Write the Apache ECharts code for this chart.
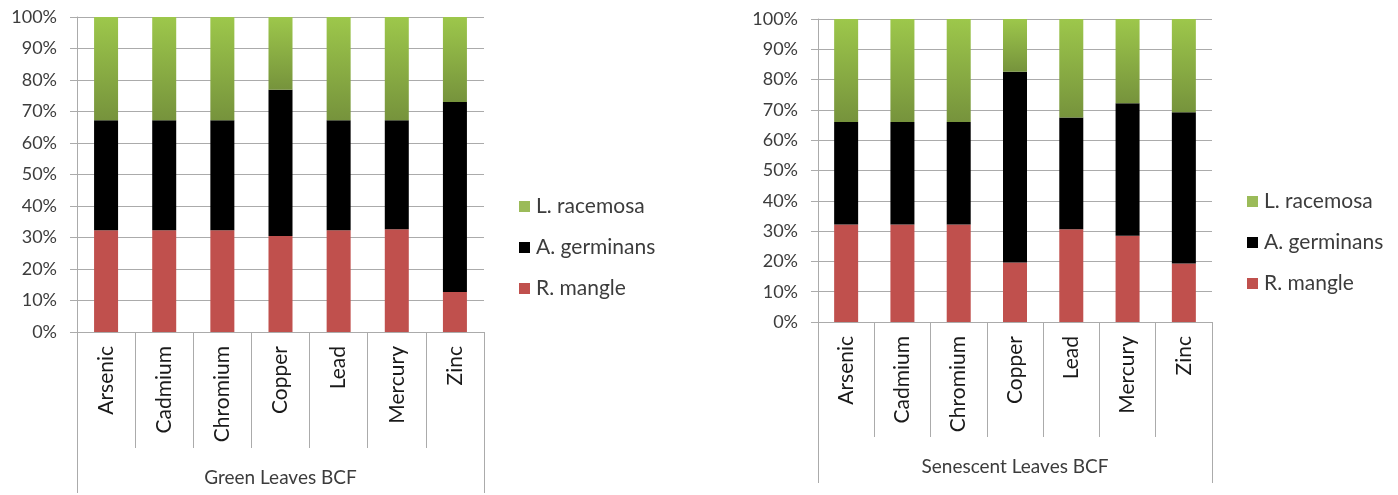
<!DOCTYPE html>
<html>
<head>
<meta charset="utf-8">
<script src="https://cdn.jsdelivr.net/npm/echarts@6/dist/echarts.min.js"></script>
<style>html,body{margin:0;padding:0;background:#fff;}#c{width:1398px;height:495px;}</style>
</head>
<body>
<div id="c"></div>
<script>
var categories = ['Arsenic', 'Cadmium', 'Chromium', 'Copper', 'Lead', 'Mercury', 'Zinc'];
var groupLeft = 'Green Leaves BCF';
var groupRight = 'Senescent Leaves BCF';
var seriesNames = ['R. mangle', 'A. germinans', 'L. racemosa'];

// Green leaves (fractions of 100%)
var greenRMangle    = [0.323, 0.323, 0.323, 0.305, 0.323, 0.326, 0.127];
var greenAGerminans = [0.349, 0.349, 0.349, 0.464, 0.349, 0.346, 0.603];
var greenLRacemosa  = [0.328, 0.328, 0.328, 0.231, 0.328, 0.328, 0.270];

// Senescent leaves
var senRMangle    = [0.322, 0.322, 0.322, 0.196, 0.306, 0.285, 0.193];
var senAGerminans = [0.338, 0.338, 0.338, 0.630, 0.369, 0.437, 0.499];
var senLRacemosa  = [0.340, 0.340, 0.340, 0.174, 0.325, 0.278, 0.308];

var yTicks = [0, 0.1, 0.2, 0.3, 0.4, 0.5, 0.6, 0.7, 0.8, 0.9, 1.0];

var FONT = 'Lato';
var TXT = '#3c3c3c';
var LINE = '#ababab';
var RED = '#C0504D';
var BLACK = '#000000';
var greenGrad = {
  type: 'linear', x: 0, y: 0, x2: 0, y2: 1,
  colorStops: [{offset: 0, color: '#9DC74B'}, {offset: 1, color: '#76933C'}]
};

function yAxis(gi) {
  return {
    type: 'value', gridIndex: gi, min: yTicks[0], max: yTicks[yTicks.length - 1], interval: 0.1,
    axisLine: {show: true, lineStyle: {color: LINE}},
    axisTick: {show: true, length: 7, lineStyle: {color: LINE}},
    splitLine: {show: true, lineStyle: {color: LINE}},
    axisLabel: {
      margin: 20, fontFamily: FONT, fontSize: 18, color: TXT,
      formatter: function (v) { return Math.round(v * 100) + '%'; }
    }
  };
}
function innerX(gi, tickLen) {
  return {
    type: 'category', gridIndex: gi, data: categories, position: 'bottom',
    axisLine: {show: true, lineStyle: {color: LINE}},
    axisTick: {show: true, length: tickLen, interval: 0, lineStyle: {color: LINE}},
    splitLine: {show: false},
    axisLabel: {interval: 0, rotate: 90, margin: 14, fontFamily: FONT, fontSize: 21, color: '#1a1a1a'}
  };
}
function outerX(gi, name, tickLen, margin) {
  return {
    type: 'category', gridIndex: gi, data: [name], position: 'bottom', offset: 0,
    axisLine: {show: false},
    axisTick: {show: true, length: tickLen, interval: 0, lineStyle: {color: LINE}},
    axisLabel: {interval: 0, margin: margin, fontFamily: FONT, fontSize: 19, color: TXT}
  };
}
function bar(name, data, xi, yi, stack, color) {
  return {
    name: name, type: 'bar', stack: stack, xAxisIndex: xi, yAxisIndex: yi,
    data: data, barWidth: 24, itemStyle: {color: color}
  };
}
function legend(left, top) {
  return {
    left: left, top: top, orient: 'vertical', padding: 0, itemGap: 20, itemWidth: 11, itemHeight: 11,
    selectedMode: false, icon: 'rect',
    textStyle: {fontFamily: FONT, fontSize: 21, color: TXT, lineHeight: 21, padding: [0, 0, 0, 1]},
    data: [
      {name: seriesNames[2], itemStyle: {color: '#9BBB59'}},
      {name: seriesNames[1], itemStyle: {color: BLACK}},
      {name: seriesNames[0], itemStyle: {color: RED}}
    ]
  };
}

var chart = echarts.init(document.getElementById('c'));
chart.setOption({
  animation: false,
  backgroundColor: '#fff',
  grid: [
    {left: 77, top: 17, width: 407, height: 315},
    {left: 818, top: 19, width: 394, height: 303}
  ],
  legend: [legend(519, 196), legend(1247, 191)],
  xAxis: [
    innerX(0, 116), outerX(0, groupLeft, 161, 136),
    innerX(1, 115), outerX(1, groupRight, 161, 135)
  ],
  yAxis: [yAxis(0), yAxis(1)],
  series: [
    bar(seriesNames[0], greenRMangle, 0, 0, 'g', RED),
    bar(seriesNames[1], greenAGerminans, 0, 0, 'g', BLACK),
    bar(seriesNames[2], greenLRacemosa, 0, 0, 'g', greenGrad),
    bar(seriesNames[0], senRMangle, 2, 1, 's', RED),
    bar(seriesNames[1], senAGerminans, 2, 1, 's', BLACK),
    bar(seriesNames[2], senLRacemosa, 2, 1, 's', greenGrad)
  ]
});
</script>
</body>
</html>
